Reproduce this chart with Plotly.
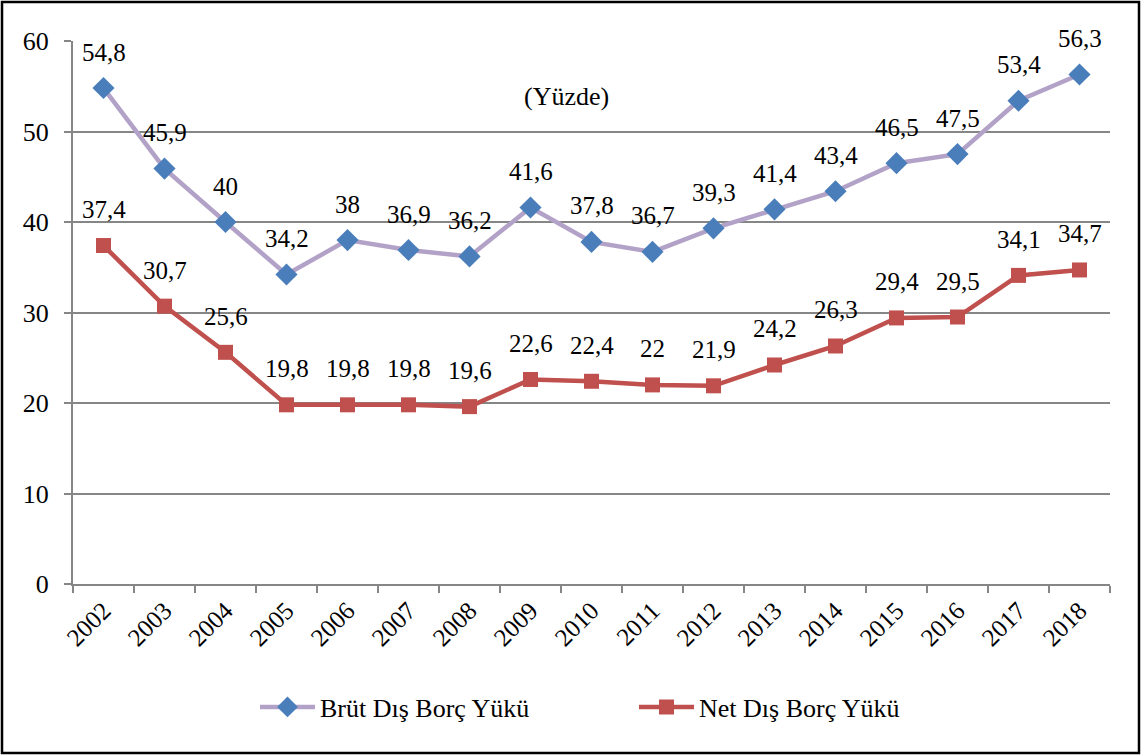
import plotly.graph_objects as go

years = list(range(2002, 2019))
year_labels = [str(y) for y in years]
brut = [54.8, 45.9, 40, 34.2, 38, 36.9, 36.2, 41.6, 37.8, 36.7, 39.3, 41.4, 43.4, 46.5, 47.5, 53.4, 56.3]
net = [37.4, 30.7, 25.6, 19.8, 19.8, 19.8, 19.6, 22.6, 22.4, 22, 21.9, 24.2, 26.3, 29.4, 29.5, 34.1, 34.7]
y_ticks = [0, 10, 20, 30, 40, 50, 60]

FONT = "Times New Roman, Liberation Serif, DejaVu Serif, serif"

def fmt(v):
    s = ("%g" % v)
    return s.replace(".", ",")

fig = go.Figure()
fig.add_trace(go.Scatter(
    x=years, y=brut, mode="lines+markers", name="Brüt Dış Borç Yükü",
    line=dict(color="#B3A2C7", width=4.5),
    marker=dict(symbol="diamond", size=17, color="#4A7EBB", line=dict(width=0)),
))
fig.add_trace(go.Scatter(
    x=years, y=net, mode="lines+markers", name="Net Dış Borç Yükü",
    line=dict(color="#C0504D", width=4.5),
    marker=dict(symbol="square", size=15, color="#C0504D", line=dict(width=0)),
))

for series in (brut, net):
    for x, v in zip(years, series):
        fig.add_annotation(x=x, y=v, text=fmt(v), showarrow=False, yshift=36,
                           font=dict(family=FONT, size=25, color="black"))

fig.add_annotation(x=(566 - 73) / 1037, y=1 - (80 - 41) / 543, xref="paper", yref="paper",
                   text="(Yüzde)", showarrow=False, font=dict(family=FONT, size=26, color="black"))

# outer border
fig.add_shape(type="rect", xref="paper", yref="paper",
              x0=(2 - 73) / 1037, x1=(1139 - 73) / 1037,
              y0=-(753 - 584) / 543, y1=1 + (41 - 2) / 543,
              line=dict(color="black", width=2.5), fillcolor="rgba(0,0,0,0)")

fig.update_layout(
    width=1141, height=755,
    margin=dict(l=73, r=31, t=41, b=171, autoexpand=False),
    paper_bgcolor="white", plot_bgcolor="white",
    font=dict(family=FONT, size=26, color="black"),
    showlegend=True,
    legend=dict(orientation="h", x=(255 - 73) / 1037, xanchor="left", y=-(707 - 584) / 543, yanchor="middle",
                font=dict(family=FONT, size=26, color="black"), itemwidth=55,
                traceorder="normal", entrywidth=309),
)
fig.update_xaxes(
    range=[2001.5, 2018.5], tickmode="array", tickvals=years, ticktext=year_labels,
    tickangle=-45, ticks="", showgrid=False, zeroline=False,
    showline=True, linecolor="#868686", linewidth=2,
    tickfont=dict(family=FONT, size=25, color="black"),
    minor=dict(tickmode="linear", tick0=2001.5, dtick=1, ticks="outside", ticklen=7,
               tickcolor="#868686", tickwidth=2, showgrid=False),
)
fig.update_yaxes(
    range=[0, 60], tickmode="array", tickvals=y_ticks, ticks="outside", ticklen=7,
    tickcolor="#868686", tickwidth=2, ticklabelstandoff=10,
    showgrid=True, gridcolor="#868686", gridwidth=1.5, zeroline=False,
    showline=True, linecolor="#868686", linewidth=2,
    tickfont=dict(family=FONT, size=26, color="black"),
)

fig.write_html("out.html", config={"displayModeBar": False},
               post_script="document.body.style.margin='0';document.body.style.padding='0';")
